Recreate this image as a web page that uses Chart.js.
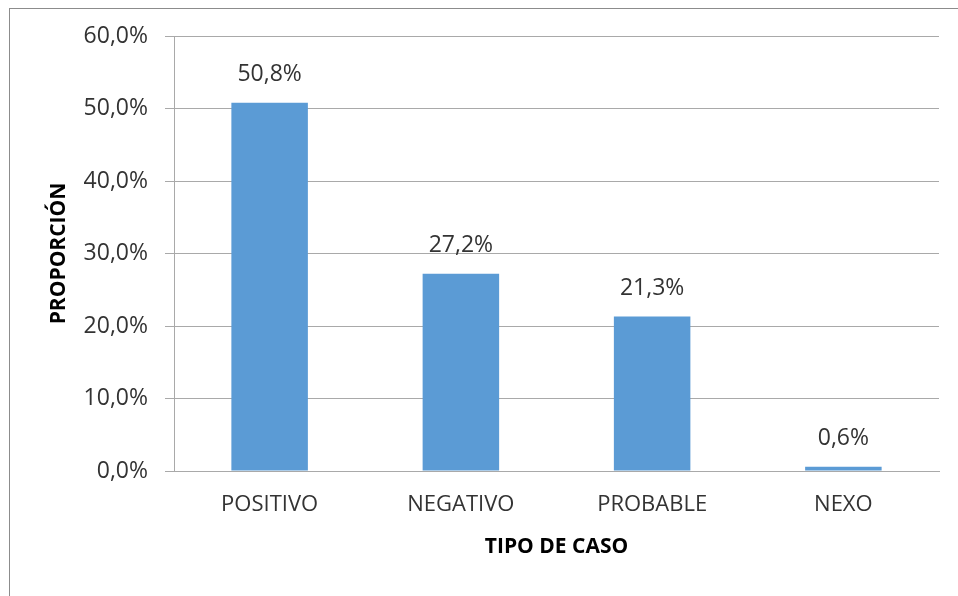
<!DOCTYPE html>
<html>
<head>
<meta charset="utf-8">
<script src="https://cdn.jsdelivr.net/npm/chart.js@4.4.0/dist/chart.umd.min.js"></script>
<style>
  html, body { margin: 0; padding: 0; background: #ffffff; }
  #wrap { position: relative; width: 958px; height: 596px; overflow: hidden; }
  #frame { position: absolute; left: 9px; top: 8px; width: 1000px; height: 700px;
           border-left: 1.5px solid #8c8c8c; border-top: 1.5px solid #8c8c8c; }
  canvas { position: absolute; left: 0; top: 0; }
</style>
</head>
<body>
<div id="wrap">
  <div id="frame"></div>
  <canvas id="c" width="958" height="596"></canvas>
</div>
<script>
const categories = ['POSITIVO', 'NEGATIVO', 'PROBABLE', 'NEXO'];
const proportions = [50.8, 27.2, 21.3, 0.6];
const yTickValues = [0, 10, 20, 30, 40, 50, 60];
const xTitle = 'TIPO DE CASO';
const yTitle = 'PROPORCIÓN';

const FONT = "'Open Sans', 'Liberation Sans', sans-serif";
const TEXT = '#333333';
const GRID = '#a9a9a9';

function fmt(v) { return v.toFixed(1).replace('.', ',') + '%'; }

const labelPlugin = {
  id: 'valueLabels',
  afterDatasetsDraw(chart) {
    const ctx = chart.ctx;
    const meta = chart.getDatasetMeta(0);
    ctx.save();
    ctx.font = '23px ' + FONT;
    ctx.fillStyle = TEXT;
    ctx.textAlign = 'center';
    ctx.textBaseline = 'middle';
    meta.data.forEach((bar, i) => {
      ctx.fillText(fmt(proportions[i]), bar.x, bar.y - 28);
    });
    ctx.restore();
  }
};

new Chart(document.getElementById('c'), {
  type: 'bar',
  data: {
    labels: categories,
    datasets: [{
      data: proportions,
      backgroundColor: '#5b9bd5',
      borderWidth: 0,
      categoryPercentage: 1.0,
      barPercentage: 0.4
    }]
  },
  options: {
    responsive: false,
    animation: false,
    devicePixelRatio: 1,
    layout: { padding: { top: 36, right: 19, left: 0, bottom: 0 } },
    plugins: { legend: { display: false }, tooltip: { enabled: false } },
    scales: {
      x: {
        grid: { display: false, drawTicks: false },
        border: { display: true, color: GRID, width: 1 },
        ticks: { color: TEXT, font: { family: FONT, size: 22 }, padding: 21 },
        title: { display: true, text: xTitle, color: '#000000',
                 font: { family: FONT, size: 21, weight: 'bold' },
                 padding: { top: 0, bottom: 36 } },
        afterFit(scale) { scale.height = 596 - 471; }
      },
      y: {
        min: 0, max: 60,
        afterBuildTicks(scale) { scale.ticks = yTickValues.map(v => ({ value: v })); },
        grid: { color: GRID, lineWidth: 1, drawTicks: true, tickLength: 9, tickColor: GRID },
        border: { display: true, color: GRID, width: 1 },
        ticks: { color: TEXT, font: { family: FONT, size: 23 }, padding: 17,
                 callback: (v) => fmt(v) },
        title: { display: true, text: yTitle, color: '#000000',
                 font: { family: FONT, size: 21, weight: 'bold' },
                 padding: { top: 46, bottom: 0 } },
        afterFit(scale) { scale.width = 174; }
      }
    }
  },
  plugins: [labelPlugin]
});
</script>
</body>
</html>
